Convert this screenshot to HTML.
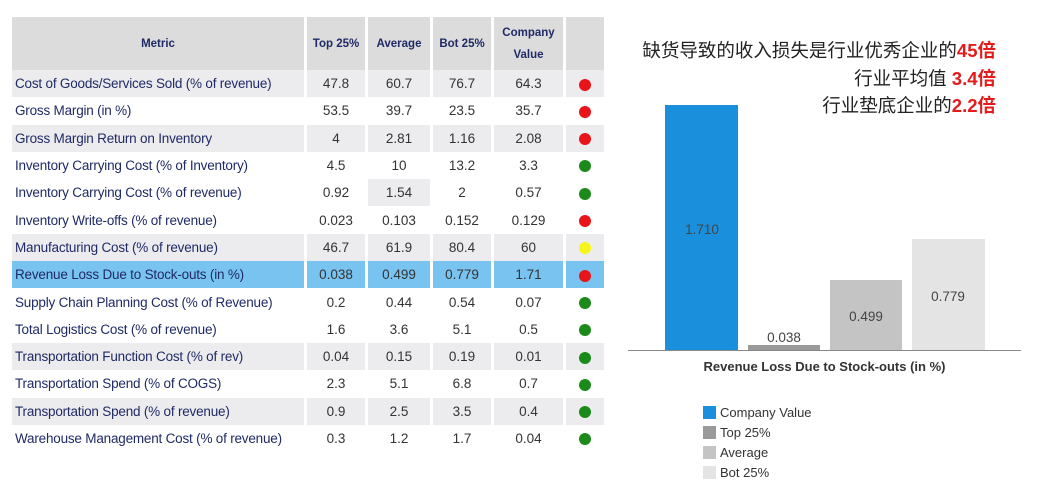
<!DOCTYPE html>
<html><head><meta charset="utf-8"><style>
body{margin:0;width:1040px;height:500px;background:#fff;position:relative;overflow:hidden;font-family:"Liberation Sans","Noto Sans CJK SC",sans-serif}
table{position:absolute;left:9px;top:17px;border-collapse:separate;border-spacing:3px 0;font-size:13.5px;color:#1f2a66}
td{height:27.3px;padding:0;text-align:center;color:#333}
td.m{text-align:left;padding-left:3px;color:#1f2a66;letter-spacing:-0.2px}
th{height:51px;background:#dcdcdc;font-size:11.5px;color:#1f2a66;font-weight:bold;line-height:22px}
tr.g td{background:#ececee}
tr.b td{background:#79c3f0}
.d{display:inline-block;width:12px;height:12px;border-radius:50%;vertical-align:middle}
.r{background:#e8141a}.gr{background:#1b8a1b}.y{background:#f5f51a}
.t{position:absolute;font-size:18.5px;color:#222;white-space:nowrap;text-align:right;right:44px}
.t b{color:#e31b1b}
.bar{position:absolute}
.lab{position:absolute;font-size:13.5px;color:#444;text-align:center;width:74px}
.lg{position:absolute;left:703px;font-size:13px;color:#333}
.lg i{display:inline-block;width:13px;height:13px;vertical-align:-2px;margin-right:4px}
</style></head><body>
<table>
<tr><th style="width:290px">Metric</th><th style="width:56px">Top 25%</th><th style="width:60px">Average</th><th style="width:56px">Bot 25%</th><th style="width:67px">Company<br>Value</th><th style="width:36px"></th></tr>
<tr class="g"><td class="m">Cost of Goods/Services Sold (% of revenue)</td><td>47.8</td><td>60.7</td><td>76.7</td><td>64.3</td><td><span class="d r"></span></td></tr>
<tr><td class="m">Gross Margin (in %)</td><td>53.5</td><td>39.7</td><td>23.5</td><td>35.7</td><td><span class="d r"></span></td></tr>
<tr class="g"><td class="m">Gross Margin Return on Inventory</td><td>4</td><td>2.81</td><td>1.16</td><td>2.08</td><td><span class="d r"></span></td></tr>
<tr><td class="m">Inventory Carrying Cost (% of Inventory)</td><td>4.5</td><td>10</td><td>13.2</td><td>3.3</td><td><span class="d gr"></span></td></tr>
<tr><td class="m">Inventory Carrying Cost (% of revenue)</td><td>0.92</td><td style="background:#ececee">1.54</td><td>2</td><td>0.57</td><td><span class="d gr"></span></td></tr>
<tr><td class="m">Inventory Write-offs (% of revenue)</td><td>0.023</td><td>0.103</td><td>0.152</td><td>0.129</td><td><span class="d r"></span></td></tr>
<tr class="g"><td class="m">Manufacturing Cost (% of revenue)</td><td>46.7</td><td>61.9</td><td>80.4</td><td>60</td><td><span class="d y"></span></td></tr>
<tr class="b"><td class="m">Revenue Loss Due to Stock-outs (in %)</td><td>0.038</td><td>0.499</td><td>0.779</td><td>1.71</td><td><span class="d r"></span></td></tr>
<tr><td class="m">Supply Chain Planning Cost (% of Revenue)</td><td>0.2</td><td>0.44</td><td>0.54</td><td>0.07</td><td><span class="d gr"></span></td></tr>
<tr><td class="m">Total Logistics Cost (% of revenue)</td><td>1.6</td><td>3.6</td><td>5.1</td><td>0.5</td><td><span class="d gr"></span></td></tr>
<tr class="g"><td class="m">Transportation Function Cost (% of rev)</td><td>0.04</td><td>0.15</td><td>0.19</td><td>0.01</td><td><span class="d gr"></span></td></tr>
<tr><td class="m">Transportation Spend (% of COGS)</td><td>2.3</td><td>5.1</td><td>6.8</td><td>0.7</td><td><span class="d gr"></span></td></tr>
<tr class="g"><td class="m">Transportation Spend (% of revenue)</td><td>0.9</td><td>2.5</td><td>3.5</td><td>0.4</td><td><span class="d gr"></span></td></tr>
<tr><td class="m">Warehouse Management Cost (% of revenue)</td><td>0.3</td><td>1.2</td><td>1.7</td><td>0.04</td><td><span class="d gr"></span></td></tr>
</table>
<div class="t" style="top:37px">缺货导致的收入损失是行业优秀企业的<b>45倍</b></div>
<div class="t" style="top:65px">行业平均值 <b>3.4倍</b></div>
<div class="t" style="top:92px">行业垫底企业的<b>2.2倍</b></div>
<div class="bar" style="left:665px;top:105px;width:73px;height:245px;background:#1a8fdc"></div>
<div class="bar" style="left:748px;top:345px;width:72px;height:5px;background:#9a9a9a"></div>
<div class="bar" style="left:830px;top:280px;width:72px;height:70px;background:#c4c4c4"></div>
<div class="bar" style="left:912px;top:239px;width:73px;height:111px;background:#e4e4e4"></div>
<div class="bar" style="left:628px;top:350px;width:393px;height:1px;background:#888"></div>
<div class="lab" style="left:665px;top:222px">1.710</div>
<div class="lab" style="left:747px;top:330px">0.038</div>
<div class="lab" style="left:829px;top:309px">0.499</div>
<div class="lab" style="left:911px;top:289px">0.779</div>
<div style="position:absolute;left:628px;width:393px;top:359px;text-align:center;font-size:13px;font-weight:bold;color:#333">Revenue Loss Due to Stock-outs (in %)</div>
<div class="lg" style="top:405px"><i style="background:#1a8fdc"></i>Company Value</div>
<div class="lg" style="top:425px"><i style="background:#9a9a9a"></i>Top 25%</div>
<div class="lg" style="top:445px"><i style="background:#c4c4c4"></i>Average</div>
<div class="lg" style="top:465px"><i style="background:#e4e4e4"></i>Bot 25%</div>
</body></html>
